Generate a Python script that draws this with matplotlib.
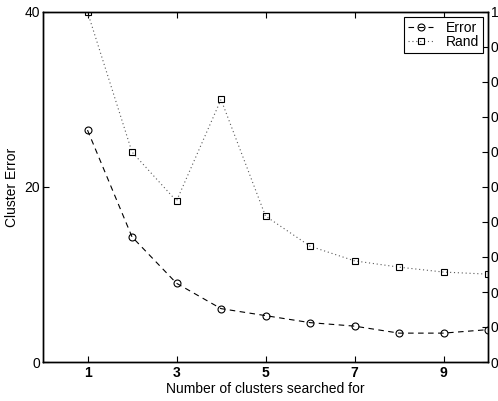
import numpy as np
import matplotlib
matplotlib.use("Agg")
import matplotlib.pyplot as plt

plt.rcParams['font.family'] = ['Liberation Sans', 'DejaVu Sans']

# data
clusters = [1, 2, 3, 4, 5, 6, 7, 8, 9, 10]
error = [26.5, 14.3, 9.0, 6.1, 5.3, 4.5, 4.1, 3.3, 3.3, 3.7]
rand = [1.0, 0.60, 0.46, 0.75, 0.417, 0.331, 0.289, 0.271, 0.257, 0.251]

xticks = [1, 3, 5, 7, 9]
left_ticks = [0, 20, 40]
right_ticks = [0, 0.1, 0.2, 0.3, 0.4, 0.5, 0.6, 0.7, 0.8, 0.9, 1.0]
right_labels = ['0', '0', '0', '0', '0', '0', '0', '0', '0', '0', '1']

fig = plt.figure(figsize=(4.98, 4.01), dpi=100)
ax = fig.add_axes([43/498, 39/401, 445/498, 350/401])
ax2 = ax.twinx()

l1, = ax.plot(clusters, error, color='black', linestyle=(0, (5, 4)), linewidth=0.8,
              marker='o', markersize=5, markerfacecolor='none', markeredgecolor='black',
              markeredgewidth=0.8, label='Error')
l2, = ax2.plot(clusters, rand, color='0.35', linestyle=(0, (1, 2.5)), linewidth=0.8,
               marker='s', markersize=4.5, markerfacecolor='none', markeredgecolor='black',
               markeredgewidth=0.8, label='Rand')

ax.set_xlim(0, 10)
ax.set_ylim(0, 40)
ax2.set_ylim(0, 1)
ax.set_xticks(xticks)
ax.set_xticklabels([str(t) for t in xticks], fontweight='bold')
ax.set_yticks(left_ticks)
ax2.set_yticks(right_ticks)
ax2.set_yticklabels(right_labels)

ax.tick_params(direction='in', length=4, width=0.8, labelsize=10, top=True, right=False, pad=3)
ax.tick_params(axis='y', pad=2)
ax2.tick_params(direction='in', length=4, width=0.8, labelsize=10, pad=2)

for a in (ax, ax2):
    for s in a.spines.values():
        s.set_linewidth(1.0)

ax.set_xlabel('Number of clusters searched for', fontsize=10, labelpad=1)
ax.set_ylabel('Cluster Error', fontsize=10, labelpad=4)

leg = ax2.legend([l1, l2], ['Error', 'Rand'], loc='upper right', numpoints=1,
                 fancybox=False, edgecolor='black', framealpha=1, fontsize=10,
                 handlelength=1.8, handletextpad=0.9, borderpad=0.3, labelspacing=0.0,
                 borderaxespad=0.35)
leg.get_frame().set_linewidth(0.8)

fig.savefig('out.png', dpi=100)
